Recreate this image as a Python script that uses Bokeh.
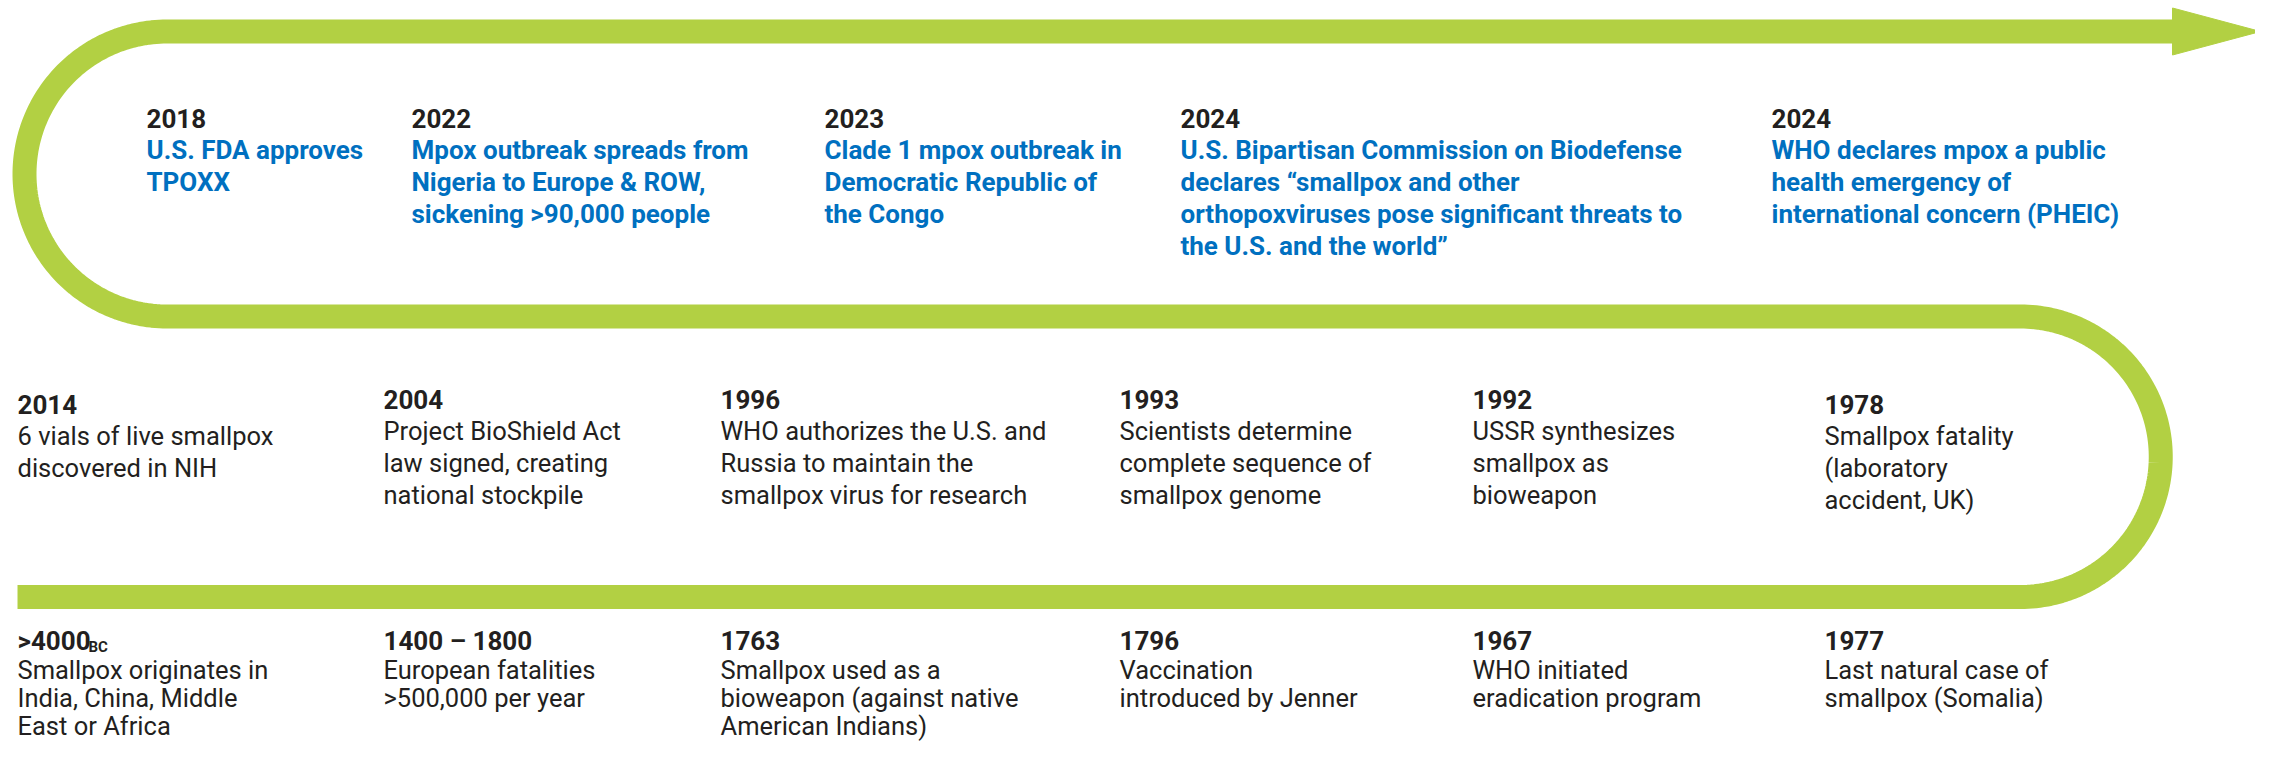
import numpy as np
from bokeh.plotting import figure
from bokeh.models import ColumnDataSource, Range1d
from bokeh.core.properties import value
from bokeh.embed import file_html
from bokeh.resources import INLINE

# ---------------- data ----------------
years_top = ["2018", "2022", "2023", "2024", "2024"]
events_top = [
    ["U.S. FDA approves", "TPOXX"],
    ["Mpox outbreak spreads from", "Nigeria to Europe & ROW,", "sickening >90,000 people"],
    ["Clade 1 mpox outbreak in", "Democratic Republic of", "the Congo"],
    ["U.S. Bipartisan Commission on Biodefense", "declares \u201csmallpox and other",
     "orthopoxviruses pose significant threats to", "the U.S. and the world\u201d"],
    ["WHO declares mpox a public", "health emergency of", "international concern (PHEIC)"],
]

years_mid = ["2014", "2004", "1996", "1993", "1992", "1978"]
events_mid = [
    ["6 vials of live smallpox", "discovered in NIH"],
    ["Project BioShield Act", "law signed, creating", "national stockpile"],
    ["WHO authorizes the U.S. and", "Russia to maintain the", "smallpox virus for research"],
    ["Scientists determine", "complete sequence of", "smallpox genome"],
    ["USSR synthesizes", "smallpox as", "bioweapon"],
    ["Smallpox fatality", "(laboratory", "accident, UK)"],
]

years_bot = [">4000", "1400 \u2013 1800", "1763", "1796", "1967", "1977"]
year_suffix_bot = ["BC", "", "", "", "", ""]
events_bot = [
    ["Smallpox originates in", "India, China, Middle", "East or Africa"],
    ["European fatalities", ">500,000 per year"],
    ["Smallpox used as a", "bioweapon (against native", "American Indians)"],
    ["Vaccination", "introduced by Jenner"],
    ["WHO initiated", "eradication program"],
    ["Last natural case of", "smallpox (Somalia)"],
]

# ---------------- layout (picture pixels) ----------------
W, H = 2255, 744
TEXT_DY = -8          # text baseline correction
top_x = [146, 411, 824, 1180, 1771]
row_x = [17, 383, 720, 1119, 1472, 1824]
mid_dy = [5, 0, 0, 0, 0, 5]
top_year_base, mid_year_base, bot_year_base = 126, 407, 648
line_gap, first_gap = 32, 31.5
bot_line_gap, bot_first_gap = 28, 29.5

GREEN = "#B2D043"
BLUE = "#0070C0"
DARK = "#231F20"
FONT = "Roboto"

# track geometry (centre line)
band_w = 24
y_top, y_mid, y_bot = 31, 316, 596.5
x_left_turn, x_right_turn = 166.5, 2020
x_start, x_arrow_base, x_tip = 17, 2172, 2260
arrow_half = 23.5

p = figure(width=W, height=H, x_range=Range1d(0, W), y_range=Range1d(H, 0),
           output_backend="svg", toolbar_location=None, min_border=0,
           x_axis_location=None, y_axis_location=None)
p.grid.visible = False
p.outline_line_color = None
p.background_fill_color = "white"
p.border_fill_color = "white"

# track path
t = np.linspace(0, np.pi, 120)
r_right = (y_bot - y_mid) / 2
cy_right = (y_bot + y_mid) / 2
r_left = (y_mid - y_top) / 2
cy_left = (y_mid + y_top) / 2
xs = ([x_start, x_right_turn] + list(x_right_turn + r_right * np.sin(t)) +
      [x_left_turn] + list(x_left_turn - r_left * np.sin(t)) + [x_arrow_base])
ys = ([y_bot, y_bot] + list(cy_right + r_right * np.cos(t)) +
      [y_mid] + list(cy_left + r_left * np.cos(t)) + [y_top])
p.line(xs, ys, line_width=band_w, line_color=GREEN, line_join="round", line_cap="butt")
p.patch([x_arrow_base, x_tip, x_arrow_base],
        [y_top - arrow_half, y_top, y_top + arrow_half],
        fill_color=GREEN, line_color=GREEN, line_width=1)

# texts
yr = dict(x=[], y=[], t=[])
blue = dict(x=[], y=[], t=[])
body = dict(x=[], y=[], t=[])

for x, yv, ev in zip(top_x, years_top, events_top):
    yr["x"].append(x); yr["y"].append(top_year_base + TEXT_DY); yr["t"].append(yv)
    for i, line in enumerate(ev):
        blue["x"].append(x)
        blue["y"].append(top_year_base + first_gap + i * line_gap + TEXT_DY)
        blue["t"].append(line)

for x, dy, yv, ev in zip(row_x, mid_dy, years_mid, events_mid):
    yr["x"].append(x); yr["y"].append(mid_year_base + dy + TEXT_DY); yr["t"].append(yv)
    for i, line in enumerate(ev):
        body["x"].append(x)
        body["y"].append(mid_year_base + dy + first_gap + i * line_gap + TEXT_DY)
        body["t"].append(line)

for x, yv, ev in zip(row_x, years_bot, events_bot):
    yr["x"].append(x); yr["y"].append(bot_year_base + TEXT_DY); yr["t"].append(yv)
    for i, line in enumerate(ev):
        body["x"].append(x)
        body["y"].append(bot_year_base + bot_first_gap + i * bot_line_gap + TEXT_DY)
        body["t"].append(line)

p.text(x="x", y="y", text="t", source=ColumnDataSource(yr), text_font=value(FONT),
       text_font_size=value("26px"), text_font_style="bold", text_color=DARK,
       text_align="left", text_baseline="alphabetic")
p.text(x="x", y="y", text="t", source=ColumnDataSource(blue), text_font=value(FONT),
       text_font_size=value("26px"), text_font_style="bold", text_color=BLUE,
       text_align="left", text_baseline="alphabetic")
p.text(x="x", y="y", text="t", source=ColumnDataSource(body), text_font=value(FONT),
       text_font_size=value("25.5px"), text_font_style="normal", text_color=DARK,
       text_align="left", text_baseline="alphabetic")

# subscript "BC"
sub = dict(x=[], y=[], t=[])
for x, s in zip(row_x, year_suffix_bot):
    if s:
        sub["x"].append(x + 71); sub["y"].append(bot_year_base + 6 + TEXT_DY); sub["t"].append(s)
p.text(x="x", y="y", text="t", source=ColumnDataSource(sub), text_font=value(FONT),
       text_font_size=value("15px"), text_font_style="bold", text_color=DARK,
       text_align="left", text_baseline="alphabetic")

open("out.html", "w").write(file_html(p, INLINE))
